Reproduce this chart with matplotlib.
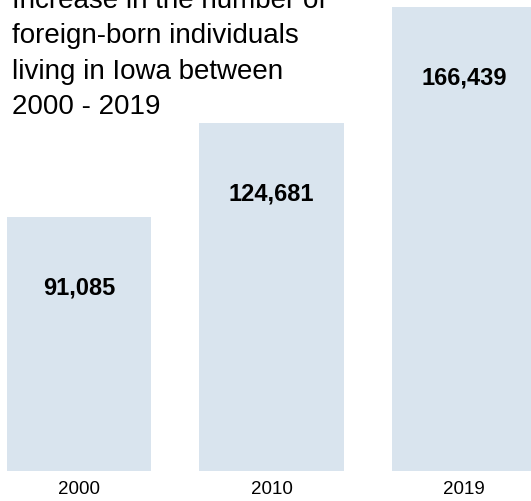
import matplotlib.pyplot as plt
from matplotlib import font_manager

years = ["2000", "2010", "2019"]
counts = [91085, 124681, 166439]
value_labels = ["91,085", "124,681", "166,439"]
title = "Increase in the number of\nforeign-born individuals\nliving in Iowa between\n2000 - 2019"

W, H = 531, 502
bar_color = "#d9e4ee"

# condensed font for the numbers if there is one
names = {f.name for f in font_manager.fontManager.ttflist}
narrow = "Liberation Sans Narrow" if "Liberation Sans Narrow" in names else "Liberation Sans"

fig = plt.figure(figsize=(W / 100, H / 100), dpi=100)
# axes: baseline at 472 px from top, top edge at the top of the figure
ax = fig.add_axes([0, 30 / H, 1, 472 / H])

x = list(range(len(years)))
ax.bar(x, counts, width=0.753, color=bar_color)
ax.set_xlim(-79 / 192.5, (W - 79) / 192.5)
ax.set_ylim(0, counts[2] * 472 / 464)
ax.axis("off")

# value labels about 70 px below each bar top
px_per_unit = 464 / counts[2]
for xi, c, lab in zip(x, counts, value_labels):
    ax.text(xi, c - 70 / px_per_unit, lab, ha="center", va="center",
            fontsize=17, fontweight="bold", family=narrow)
    ax.text(xi, -18 / px_per_unit, years[xi], ha="center", va="center",
            fontsize=13.5, family=narrow, clip_on=False)

# title: first line runs off the top like in the original
fig.text(12 / W, 1 - 114 / H, title, ha="left", va="baseline",
         fontsize=20, family="Liberation Sans", linespacing=1.47)

fig.savefig("out.png", dpi=100)
